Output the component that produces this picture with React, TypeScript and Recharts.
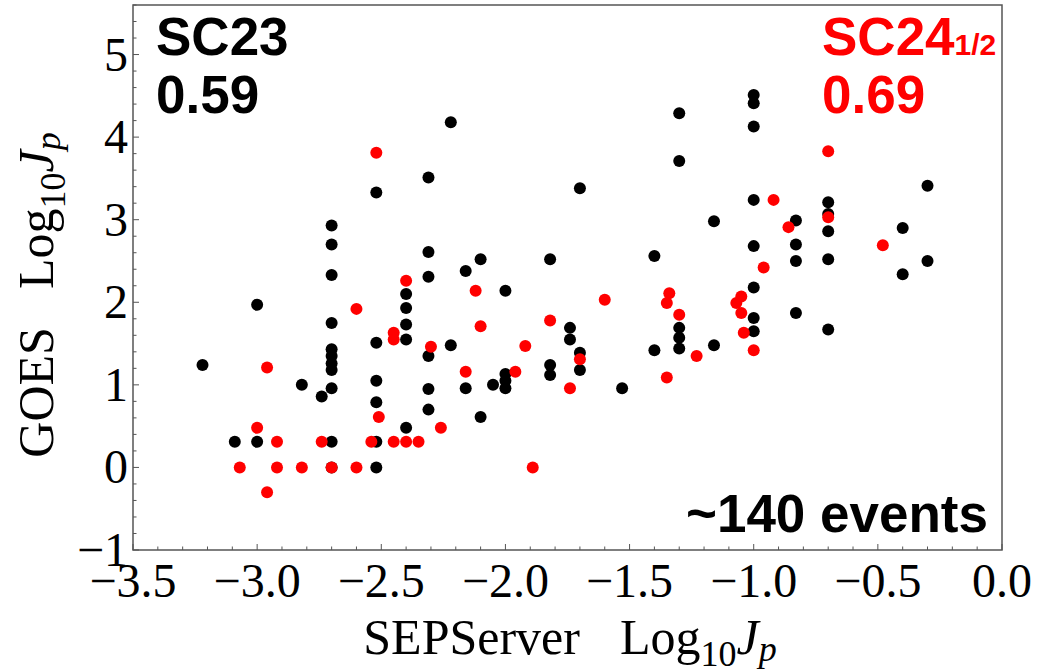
import { ScatterChart, Scatter, XAxis, YAxis, ReferenceArea } from 'recharts'

// SC23 events (black): SEPServer log10 Jp vs GOES log10 Jp
const sc23Sep = [
  -3.22, -3.09, -3.0, -3.0, -2.82, -2.74,
  -2.7, -2.7, -2.7, -2.7, -2.7, -2.7, -2.7, -2.7, -2.7, -2.7, -2.7,
  -2.52, -2.52, -2.52, -2.52, -2.52, -2.52,
  -2.4, -2.4, -2.4, -2.4, -2.4,
  -2.31, -2.31, -2.31, -2.31, -2.31, -2.31,
  -2.22, -2.22, -2.16, -2.16, -2.1, -2.1, -2.05,
  -2.0, -2.0, -2.0, -2.0,
  -1.82, -1.82, -1.82, -1.74, -1.74, -1.7, -1.7, -1.7,
  -1.53, -1.4, -1.4,
  -1.3, -1.3, -1.3, -1.3, -1.3,
  -1.16, -1.16,
  -1.0, -1.0, -1.0, -1.0, -1.0, -1.0, -1.0, -1.0,
  -0.83, -0.83, -0.83, -0.83,
  -0.7, -0.7, -0.7, -0.7, -0.7,
  -0.4, -0.4, -0.3, -0.3,
]
const sc23Goes = [
  1.24, 0.31, 1.97, 0.31, 1.0, 0.86,
  2.93, 2.7, 2.33, 1.75, 1.43, 1.35, 1.26, 1.18, 0.96, 0.31, 0.0,
  3.33, 1.51, 1.05, 0.79, 0.31, 0.0,
  2.1, 1.93, 1.73, 1.55, 0.48,
  3.51, 2.61, 2.31, 1.35, 0.95, 0.7,
  4.18, 1.48, 2.38, 0.96, 2.52, 0.61, 1.0,
  2.14, 1.13, 1.05, 0.96,
  2.52, 1.24, 1.12, 1.69, 1.55, 3.38, 1.39, 1.18,
  0.96, 2.56, 1.42,
  4.29, 3.71, 1.69, 1.57, 1.44,
  2.98, 1.48,
  4.51, 4.41, 4.13, 3.24, 2.68, 2.18, 1.81, 1.65,
  2.99, 2.7, 2.5, 1.87,
  3.21, 3.07, 2.86, 2.52, 1.67,
  2.9, 2.34, 3.41, 2.5,
]

// SC24 1/2 events (red)
const sc24Sep = [
  -3.07, -3.0, -2.96, -2.96, -2.92, -2.92, -2.82, -2.74, -2.7,
  -2.6, -2.6, -2.54, -2.52, -2.51, -2.45, -2.45, -2.45,
  -2.4, -2.4, -2.35, -2.3, -2.26, -2.12, -2.1, -2.16,
  -1.96, -1.92, -1.89, -1.82, -1.74, -1.7, -1.6,
  -1.35, -1.34, -1.3, -1.35, -1.23,
  -1.07, -1.05, -1.05, -1.04, -1.0, -0.96, -0.92, -0.86,
  -0.7, -0.7, -0.48,
]
const sc24Goes = [
  0.0, 0.48, 1.21, -0.3, 0.31, 0.0, 0.0, 0.31, 0.0,
  1.92, 0.0, 0.31, 3.81, 0.61, 1.63, 1.55, 0.31,
  2.26, 0.31, 0.31, 1.46, 0.48, 2.14, 1.71, 1.16,
  1.16, 1.47, 0.0, 1.78, 0.96, 1.31, 2.03,
  1.99, 2.11, 1.85, 1.09, 1.35,
  1.99, 2.07, 1.87, 1.63, 1.42, 2.42, 3.24, 2.91,
  3.83, 3.03, 2.69,
]

const xTicks = Array.from({ length: 36 }, (_, i) => (i - 35) / 10)
const yTicks = Array.from({ length: 34 }, (_, i) => (i - 5) / 5)

const sc23 = sc23Sep.map((x, i) => ({ x, y: sc23Goes[i] }))
const sc24 = sc24Sep.map((x, i) => ({ x, y: sc24Goes[i] }))

const SERIF = 'Liberation Serif, Times New Roman, serif'
const SANS = 'Liberation Sans, Arial, sans-serif'
const AXIS = '#555'

function XTick({ x, y, payload }: any) {
  const v = payload.value as number
  const major = Math.abs(v * 2 - Math.round(v * 2)) < 1e-6
  const label = v === 0 ? '0.0' : '\u2212' + Math.abs(v).toFixed(1)
  return (
    <g>
      <line x1={x} x2={x} y1={y} y2={y - (major ? 6 : 3.5)} stroke={AXIS} strokeWidth={1} />
      {major && (
        <text x={x} y={y + 47} textAnchor="middle" fontFamily={SERIF} fontSize={48} fill="#000">
          {label}
        </text>
      )}
    </g>
  )
}

function YTick({ x, y, payload }: any) {
  const v = payload.value as number
  const major = Math.abs(v - Math.round(v)) < 1e-6
  const label = v < 0 ? '\u2212' + Math.abs(v) : String(v)
  return (
    <g>
      <line x1={x} x2={x + (major ? 6 : 3.5)} y1={y} y2={y} stroke={AXIS} strokeWidth={1} />
      {major && (
        <text x={x - 5} y={y + 16} textAnchor="end" fontFamily={SERIF} fontSize={48} fill="#000">
          {label}
        </text>
      )}
    </g>
  )
}

const dot = (color: string) => (props: any) =>
  <circle cx={props.cx} cy={props.cy} r={6} fill={color} />

export default function App() {
  return (
    <div style={{ position: 'absolute', left: 0, top: 0, background: '#fff' }}>
      <ScatterChart width={1047} height={671} margin={{ top: 5, right: 45, bottom: 0, left: 0 }}>
        <XAxis
          type="number"
          dataKey="x"
          domain={[-3.5, 0]}
          ticks={xTicks}
          interval={0}
          tick={<XTick />}
          tickLine={false}
          axisLine={false}
          tickSize={0}
          tickMargin={0}
          height={121}
          allowDataOverflow
        />
        <YAxis
          type="number"
          dataKey="y"
          domain={[-1, 5.6]}
          ticks={yTicks}
          interval={0}
          tick={<YTick />}
          tickLine={false}
          axisLine={false}
          tickSize={0}
          tickMargin={0}
          width={133}
          allowDataOverflow
        />
        <ReferenceArea x1={-3.5} x2={0} y1={-1} y2={5.6} fill="none" stroke={AXIS} strokeWidth={1.5} />
        <Scatter data={sc23} fill="#000" shape={dot('#000')} isAnimationActive={false} />
        <Scatter data={sc24} fill="#ff0000" shape={dot('#ff0000')} isAnimationActive={false} />

        <text x={156} y={55} fontFamily={SANS} fontWeight="bold" fontSize={53} fill="#000">SC23</text>
        <text x={156} y={113} fontFamily={SANS} fontWeight="bold" fontSize={53} fill="#000">0.59</text>
        <text x={822} y={55} fontFamily={SANS} fontWeight="bold" fontSize={53} fill="#ff0000">
          SC24<tspan fontSize={30}>1/2</tspan>
        </text>
        <text x={822} y={113} fontFamily={SANS} fontWeight="bold" fontSize={53} fill="#ff0000">0.69</text>
        <text x={988} y={532} textAnchor="end" fontFamily={SANS} fontWeight="bold" fontSize={53} fill="#000">
          ~140 events
        </text>

        <text x={570} y={654} textAnchor="middle" fontFamily={SERIF} fontSize={50} fill="#000">
          SEPServer
          <tspan dx={40}>Log</tspan>
          <tspan fontSize={36} dy={12}>10</tspan>
          <tspan fontStyle="italic" dy={-12}>J</tspan>
          <tspan fontStyle="italic" fontSize={36} dy={7}>p</tspan>
        </text>
        <text
          x={53}
          y={295}
          transform="rotate(-90, 53, 295)"
          textAnchor="middle"
          fontFamily={SERIF}
          fontSize={50}
          fill="#000"
        >
          GOES
          <tspan dx={38}>Log</tspan>
          <tspan fontSize={36} dy={12}>10</tspan>
          <tspan fontStyle="italic" dy={-12}>J</tspan>
          <tspan fontStyle="italic" fontSize={36} dy={7}>p</tspan>
        </text>
      </ScatterChart>
    </div>
  )
}
